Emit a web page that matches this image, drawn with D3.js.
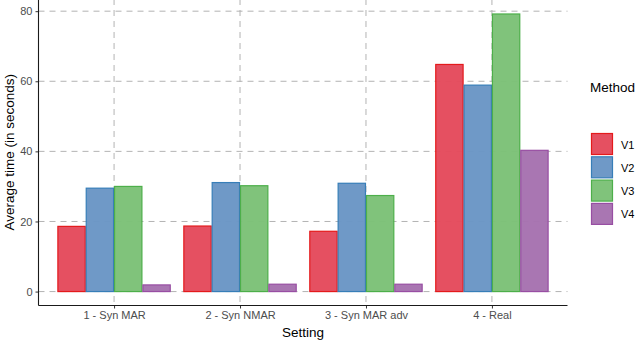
<!DOCTYPE html>
<html>
<head>
<meta charset="utf-8">
<script src="https://cdn.jsdelivr.net/npm/d3@7"></script>
<style>
body{margin:0;background:#fff;}
svg{display:block;font-family:"Liberation Sans",Arial,Helvetica,sans-serif;}
</style>
</head>
<body>
<svg id="chart" width="640" height="343"></svg>
<script>
const categories = ["1 - Syn MAR","2 - Syn NMAR","3 - Syn MAR adv","4 - Real"];
const methods = ["V1","V2","V3","V4"];
const V1 = [18.6, 18.7, 17.2, 64.8];
const V2 = [29.5, 31.1, 30.9, 58.9];
const V3 = [30.0, 30.2, 27.4, 79.2];
const V4 = [1.9, 2.1, 2.1, 40.3];
const yTicks = [0,20,40,60,80];
const strokeColors = ["#E41A1C","#377EB8","#4DAF4A","#984EA3"];
const fillColors = ["#E44A5C","#6A96C5","#7CC177","#A672B0"];

(function(){
const series = [V1,V2,V3,V4];
const data = [];
categories.forEach((c,i)=>methods.forEach((m,j)=>data.push({cat:c,method:m,value:series[j][i]})));

const svg = d3.select("#chart");
const pl = 38.5, pr = 567.5, pt = -1, pb = 305.5;

const step = (pr-pl)/4.2;
const xc = d3.scalePoint().domain(categories).range([pl + 0.6*step, pr - 0.6*step]);
const xm = d3.scaleBand().domain(methods).range([-0.45*step, 0.45*step]);
const y = d3.scaleLinear().domain([-3.975, 83.475]).range([pb, pt]);
const stroke = d3.scaleOrdinal().domain(methods).range(strokeColors);
const fill = d3.scaleOrdinal().domain(methods).range(fillColors);

// grid
const g = svg.append("g");
g.selectAll(".hg").data(yTicks).join("line")
  .attr("x1",pl).attr("x2",pr)
  .attr("y1",d=>y(d)).attr("y2",d=>y(d))
  .attr("stroke","#b3b3b3").attr("stroke-width",1).attr("stroke-dasharray","6,5");
g.selectAll(".vg").data(categories).join("line")
  .attr("x1",d=>xc(d)).attr("x2",d=>xc(d))
  .attr("y1",pt).attr("y2",pb)
  .attr("stroke","#b3b3b3").attr("stroke-width",1).attr("stroke-dasharray","6,5");

// bars
svg.append("g").selectAll("rect").data(data).join("rect")
  .attr("x",d=>xc(d.cat)+xm(d.method)+0.5)
  .attr("width",xm.bandwidth()-1)
  .attr("y",d=>y(d.value))
  .attr("height",d=>y(0)-y(d.value))
  .attr("fill",d=>fill(d.method)).attr("fill-opacity",0.97)
  .attr("stroke",d=>stroke(d.method)).attr("stroke-width",1.2);

// axes
const yAxis = d3.axisLeft(y).tickValues(yTicks).tickSize(3).tickPadding(3);
const ya = svg.append("g").attr("transform",`translate(${pl},0)`).call(yAxis);
ya.select(".domain").remove();
ya.selectAll("text").attr("fill","#4d4d4d").style("font-size","11px");
ya.selectAll("line").attr("stroke","#333");
svg.append("line").attr("x1",pl).attr("x2",pl).attr("y1",pt).attr("y2",pb)
  .attr("stroke","#1a1a1a").attr("stroke-width",1.1);

const xAxis = d3.axisBottom(xc).tickSize(3).tickPadding(3);
const xa = svg.append("g").attr("transform",`translate(0,${pb})`).call(xAxis);
xa.select(".domain").remove();
xa.selectAll("text").attr("fill","#4d4d4d").style("font-size","11px");
xa.selectAll("line").attr("stroke","#333");
svg.append("line").attr("x1",pl).attr("x2",pr).attr("y1",pb).attr("y2",pb)
  .attr("stroke","#1a1a1a").attr("stroke-width",1.1);

// axis titles
svg.append("text").attr("x",(pl+pr)/2).attr("y",337).attr("text-anchor","middle")
  .style("font-size","13.5px").attr("fill","#000").text("Setting");
svg.append("text").attr("transform",`translate(14,${(pt+pb)/2}) rotate(-90)`)
  .attr("text-anchor","middle").style("font-size","13.5px").attr("fill","#000")
  .text("Average time (in seconds)");

// legend
const lg = svg.append("g");
lg.append("text").attr("x",590).attr("y",92).style("font-size","13.5px").text("Method");
const keyH = 23.3;
const items = lg.selectAll(".item").data(methods).join("g")
  .attr("transform",(d,i)=>`translate(591,${133+i*keyH})`);
items.append("rect").attr("x",0.5).attr("y",0.5).attr("width",21).attr("height",21)
  .attr("fill",d=>fill(d)).attr("fill-opacity",0.97)
  .attr("stroke",d=>stroke(d)).attr("stroke-width",1.2);
items.append("text").attr("x",30).attr("y",15.5).style("font-size","11px").attr("fill","#000").text(d=>d);
})();
</script>
</body>
</html>
